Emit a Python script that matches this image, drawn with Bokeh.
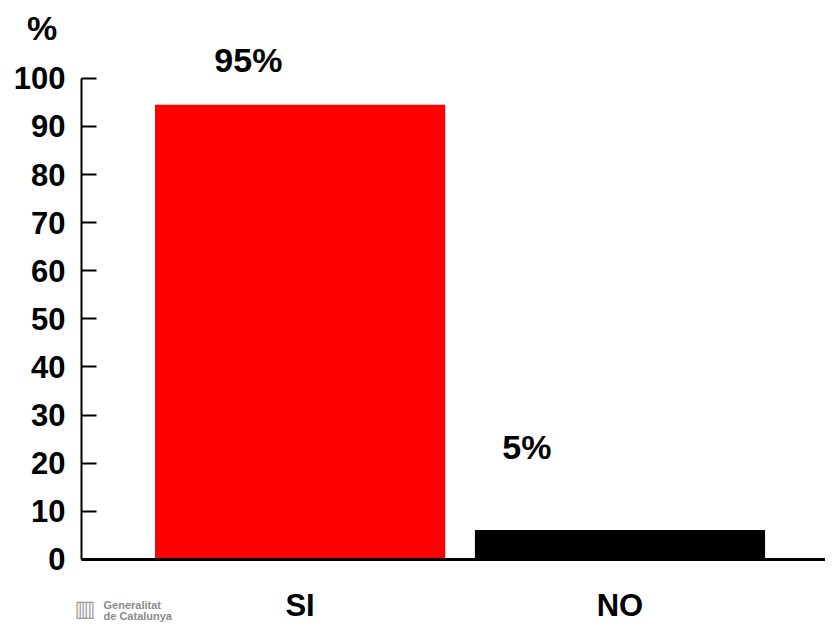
from bokeh.plotting import figure
from bokeh.models import FixedTicker, ColumnDataSource
from bokeh.core.properties import value
from bokeh.embed import file_html
from bokeh.resources import INLINE

categories = ["SI", "NO"]
values = [94.5, 6.1]
bar_colors = ["#FF0000", "#000000"]
bar_labels = ["95%", "5%"]
label_dx = [-0.268, -0.368]
label_y = [103.9, 23.3]
y_ticks = [0, 10, 20, 30, 40, 50, 60, 70, 80, 90, 100]

FONT = "Liberation Sans"
X0, X1 = -0.683, 1.6424

p = figure(width=825, height=622, output_backend="svg", toolbar_location=None,
           x_range=(-0.9365, X1), y_range=(-13.14, 116.2),
           min_border_left=0, min_border_right=0, min_border_top=0, min_border_bottom=0)
p.outline_line_color = None
p.xgrid.visible = False
p.ygrid.visible = False
p.background_fill_color = "white"
p.border_fill_color = "white"

xs = list(range(len(categories)))
src = ColumnDataSource(dict(x=xs, top=values, color=bar_colors))
p.vbar(x="x", top="top", width=0.907, bottom=0, color="color", line_color=None, source=src)

lsrc = ColumnDataSource(dict(x=[xs[i] + label_dx[i] for i in range(len(xs))], y=label_y, t=bar_labels))
p.text(x="x", y="y", text="t", source=lsrc, text_font=value(FONT), text_font_style="bold",
       text_font_size="34px", text_align="left", text_baseline="middle", text_color="black")

# y axis
p.yaxis.fixed_location = X0
p.yaxis.ticker = FixedTicker(ticks=y_ticks)
p.yaxis.bounds = (0, 100)
p.yaxis.major_tick_in = 15
p.yaxis.major_tick_out = 0
p.yaxis.minor_tick_line_color = None
p.yaxis.axis_line_width = 2
p.yaxis.major_tick_line_width = 2
p.yaxis.major_label_text_font = FONT
p.yaxis.major_label_text_font_style = "bold"
p.yaxis.major_label_text_font_size = "31px"
p.yaxis.major_label_text_color = "black"
p.yaxis.major_label_standoff = 16

# x axis
p.xaxis.fixed_location = 0
p.xaxis.bounds = (X0, X1)
p.xaxis.ticker = FixedTicker(ticks=xs)
p.xaxis.major_label_overrides = {i: c for i, c in enumerate(categories)}
p.xaxis.major_tick_line_color = None
p.xaxis.minor_tick_line_color = None
p.xaxis.axis_line_width = 3
p.xaxis.major_label_text_font = FONT
p.xaxis.major_label_text_font_style = "bold"
p.xaxis.major_label_text_font_size = "31px"
p.xaxis.major_label_text_color = "black"
p.xaxis.major_label_standoff = 23

# "%" unit and logo text
p.text(x=[-0.8065], y=[110.4], text=["%"], text_font=value(FONT), text_font_style="bold",
       text_font_size="34px", text_align="center", text_baseline="middle", text_color="black")
p.text(x=[-0.705], y=[-10.3], text=["▥"], text_font=value("DejaVu Sans"),
       text_font_size="22px", text_align="left", text_baseline="middle", text_color="#9a9a9a")
p.text(x=[-0.6145, -0.6145], y=[-9.4, -11.8], text=["Generalitat", "de Catalunya"],
       text_font=value(FONT), text_font_style="bold", text_font_size="11px",
       text_align="left", text_baseline="middle", text_color="#8a8a8a")

open("out.html", "w").write(file_html(p, INLINE))
